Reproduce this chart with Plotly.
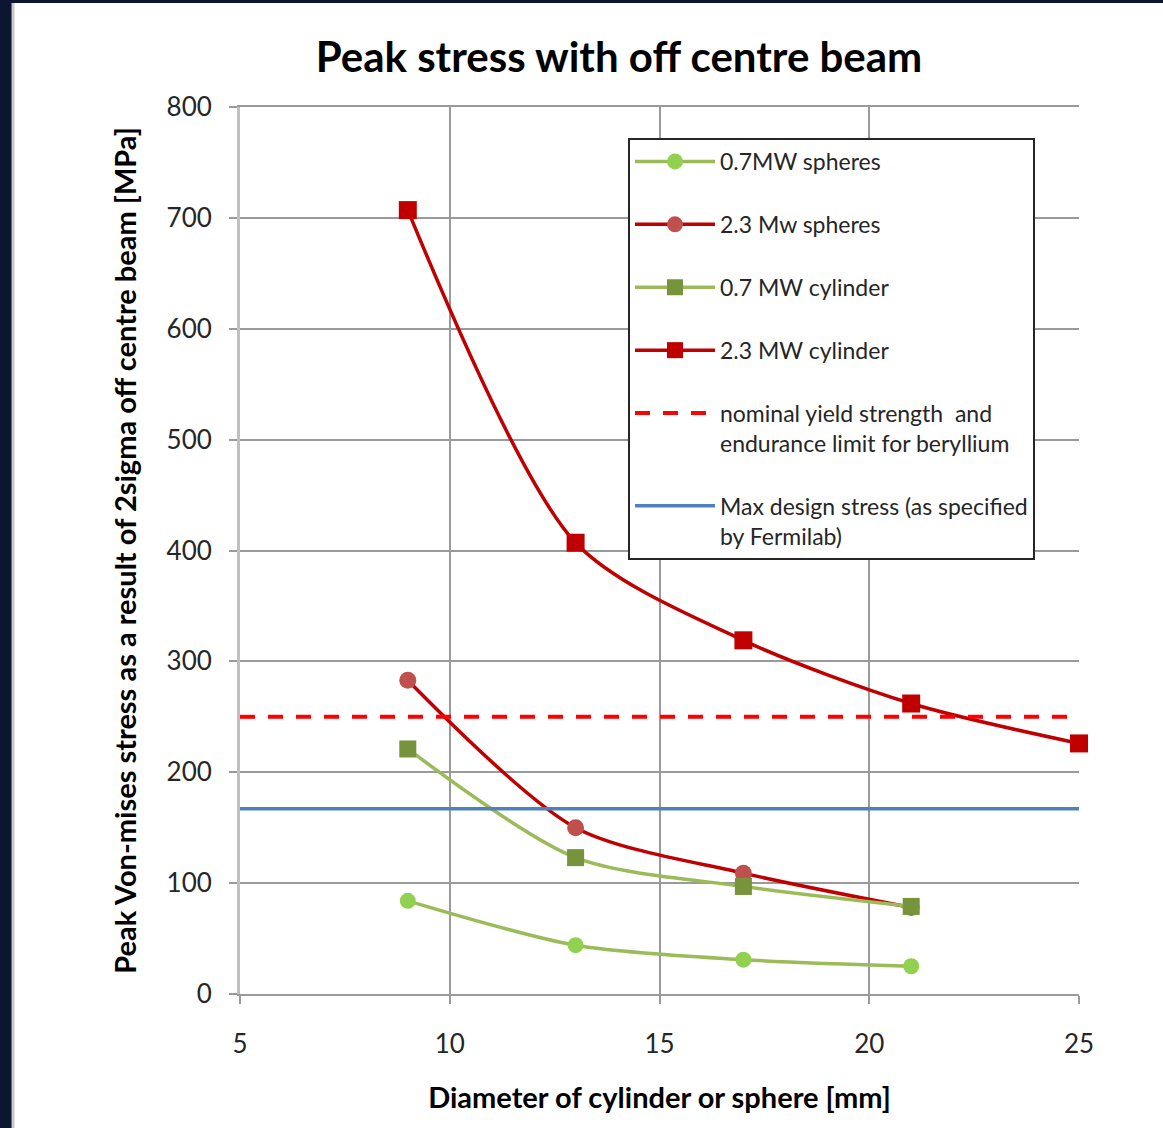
import plotly.graph_objects as go

# ---- data ----
diam_4 = [9, 13, 17, 21]
diam_5 = [9, 13, 17, 21, 25]
sph_07 = [84, 44, 31, 25]
sph_23 = [283, 150, 109, 78]
cyl_07 = [221, 123, 97, 79]
cyl_23 = [707, 407, 319, 262, 226]
limit_x = [5, 25]
yield_strength = [250, 250]
max_design = [167, 167]

x_ticks = [5, 10, 15, 20, 25]
y_ticks = [0, 100, 200, 300, 400, 500, 600, 700, 800]

FONT = "Lato"
fig = go.Figure()

def series(x, y, name, lcolor, mcolor, symbol, msize, group):
    fig.add_trace(go.Scatter(
        x=x, y=y, name=name, mode="lines+markers", cliponaxis=False,
        line=dict(color=lcolor, width=3.5, shape="spline", smoothing=0.8),
        marker=dict(color=mcolor, symbol=symbol, size=msize, line=dict(width=0)),
        legendgroup=group))

series(diam_4, sph_07, "0.7MW spheres", "#9bbb59", "#92d050", "circle", 16, "a")
series(diam_4, sph_23, "2.3 Mw spheres", "#c00000", "#c0504d", "circle", 17, "b")
series(diam_4, cyl_07, "0.7 MW cylinder", "#9bbb59", "#77933c", "square", 17, "c")
series(diam_5, cyl_23, "2.3 MW cylinder", "#c00000", "#c00000", "square", 18, "d")

fig.add_trace(go.Scatter(
    x=limit_x, y=yield_strength, mode="lines",
    name="nominal yield strength  and<br>endurance limit for beryllium",
    line=dict(color="#ff0000", width=4, dash="15px,13px"), legendgroup="e"))
fig.add_trace(go.Scatter(
    x=limit_x, y=max_design, mode="lines",
    name="Max design stress (as specified<br>by Fermilab)",
    line=dict(color="#4f81bd", width=3.5), legendgroup="f"))

grid = "#9a9a9a"
fig.update_layout(
    width=1163, height=1128, autosize=False,
    paper_bgcolor="#0c1630", plot_bgcolor="white",
    margin=dict(l=240, r=84, t=107, b=134),
    font=dict(family=FONT, color="#262626"),
    title=dict(text="<b>Peak stress with off centre beam</b>",
               font=dict(family=FONT, size=42, color="black"),
               x=619/1163, xanchor="center", xref="container",
               y=1-57/1128, yanchor="middle", yref="container"),
    legend=dict(x=(628-240)/839, y=(994-138)/887, xanchor="left", yanchor="top",
                bgcolor="white", bordercolor="#262626", borderwidth=2,
                font=dict(family=FONT, size=23, color="#262626"),
                tracegroupgap=30, itemwidth=80, valign="top",
                traceorder="grouped"),
    showlegend=True,
    shapes=[
        dict(type="rect", xref="paper", yref="paper",
             x0=(13-240)/839, x1=1.2, y0=-0.3, y1=(994-3)/887,
             fillcolor="white", line=dict(width=0), layer="below"),
        dict(type="line", xref="paper", yref="paper",
             x0=(13-240)/839, x1=(13-240)/839, y0=-0.3, y1=(994-3)/887,
             line=dict(color="#c8c8c8", width=3), layer="below"),
    ],
)

fig.update_xaxes(
    range=[5, 25], tickvals=x_ticks, showgrid=True, gridcolor=grid, gridwidth=1.5,
    zeroline=False, showline=True, linecolor=grid, linewidth=1.5, mirror=True,
    ticks="outside", ticklen=8, tickcolor=grid, tickwidth=1.5,
    tickfont=dict(family=FONT, size=26, color="#262626"), ticklabelstandoff=18,
    title=dict(text="<b>Diameter of cylinder or sphere [mm]</b>",
               font=dict(family=FONT, size=29, color="black"), standoff=30),
)
fig.update_yaxes(
    range=[0, 800], tickvals=y_ticks, showgrid=True, gridcolor=grid, gridwidth=1.5,
    zeroline=False, showline=True, linecolor="#c0c0c0", linewidth=3, mirror=False,
    ticks="outside", ticklen=8, tickcolor=grid, tickwidth=1.5,
    tickfont=dict(family=FONT, size=26, color="#262626"), ticklabelstandoff=12,
    title=dict(text="<b>Peak Von-mises stress as a result of 2sigma off centre beam [MPa]</b>",
               font=dict(family=FONT, size=29, color="black"), standoff=22),
)

fig.write_html("out.html", config={"displayModeBar": False},
               post_script="document.body.style.margin='0px';document.body.style.overflow='hidden';")
